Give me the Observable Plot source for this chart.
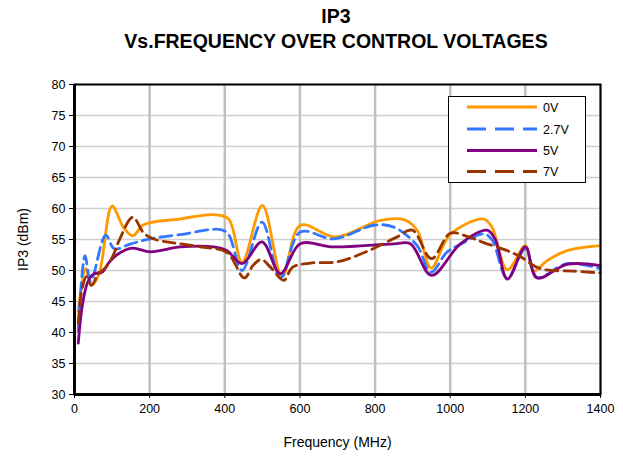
<!DOCTYPE html>
<html>
<head>
<meta charset="utf-8">
<script src="https://cdn.jsdelivr.net/npm/d3@7"></script>
<script src="https://cdn.jsdelivr.net/npm/@observablehq/plot@0.6"></script>
<style>
  html, body { margin: 0; padding: 0; background: #fff; }
  #wrap { position: relative; width: 623px; height: 456px; font-family: "Liberation Sans", Arial, sans-serif; }
  .title { position: absolute; left: 0; width: 672px; text-align: center; font-weight: bold; font-size: 19.5px; color: #000; z-index: 5; }
  #legend { position: absolute; left: 0; top: 0; z-index: 4; }
</style>
</head>
<body>
<div id="wrap">
  <div class="title" style="top:5px">IP3</div>
  <div class="title" style="top:30px">Vs.FREQUENCY OVER CONTROL VOLTAGES</div>
</div>
<script>
// ---- data ----
const seriesNames = ["0V", "2.7V", "5V", "7V"];
const seriesColors = ["#FF9900", "#3377FF", "#800080", "#993300"];
const seriesDash = [null, "12,6", null, "12,6"];

const freq0V = [10, 30, 45, 65, 100, 130, 155, 185, 280, 370, 410, 446, 500, 553, 601, 695, 814, 877, 912, 949, 1000, 1089, 1111, 1152, 1200, 1222, 1258, 1311, 1400];
const ip3_0V = [43.5, 50.3, 47.6, 49.4, 60.4, 57.0, 55.6, 57.4, 58.3, 59.0, 58.3, 51.3, 60.5, 49.0, 57.3, 55.4, 58.1, 58.2, 56.5, 50.4, 55.8, 58.3, 57.0, 50.1, 54.0, 49.9, 51.6, 53.2, 54.0];

const freq2_7V = [10, 28, 43, 83, 106, 150, 202, 282, 389, 410, 446, 499, 548, 601, 690, 797, 850, 912, 948, 992, 1027, 1089, 1111, 1152, 1200, 1231, 1311, 1400];
const ip3_2_7V = [40.3, 52.4, 48.2, 55.7, 53.5, 54.3, 55.1, 55.8, 56.6, 55.8, 50.0, 57.8, 48.8, 56.2, 55.1, 57.3, 57.0, 54.0, 49.7, 53.0, 54.2, 55.9, 55.0, 48.7, 53.5, 48.9, 51.1, 50.3];

const freq5V = [10, 21, 35, 50, 75, 92, 117, 154, 202, 282, 371, 406, 446, 499, 548, 601, 690, 850, 894, 950, 1027, 1098, 1120, 1152, 1200, 1231, 1311, 1400];
const ip3_5V = [38.3, 44.4, 48.1, 49.4, 49.8, 51.3, 52.7, 53.6, 53.0, 53.8, 53.8, 53.2, 51.1, 54.6, 49.5, 54.3, 53.8, 54.3, 54.3, 49.2, 54.3, 56.5, 55.0, 48.6, 53.8, 48.8, 51.0, 50.8];

const freq7V = [10, 20, 32, 45, 62, 83, 101, 120, 155, 185, 215, 260, 335, 406, 452, 475, 497, 522, 557, 580, 628, 700, 783, 855, 899, 950, 1000, 1045, 1089, 1152, 1187, 1240, 1329, 1400];
const ip3_7V = [41.5, 47.0, 49.0, 47.6, 49.3, 50.5, 52.2, 55.0, 58.6, 56.0, 55.0, 54.5, 53.8, 52.9, 48.8, 50.8, 51.8, 50.5, 48.4, 50.5, 51.2, 51.4, 53.2, 55.3, 56.5, 51.9, 56.0, 55.5, 54.5, 53.2, 52.2, 50.3, 49.9, 49.6];

const xTicks = [0, 200, 400, 600, 800, 1000, 1200, 1400];
const yTicks = [30, 35, 40, 45, 50, 55, 60, 65, 70, 75, 80];

// ---- build table ----
const freqs = [freq0V, freq2_7V, freq5V, freq7V];
const vals = [ip3_0V, ip3_2_7V, ip3_5V, ip3_7V];
const rows = [];
seriesNames.forEach((s, i) => freqs[i].forEach((f, j) => rows.push({series: s, freq: f, ip3: vals[i][j]})));

const lineMarks = seriesNames.map((s, i) => Plot.line(rows.filter(d => d.series === s), {
  x: "freq", y: "ip3", stroke: seriesColors[i], strokeWidth: 2.8,
  strokeDasharray: seriesDash[i] || undefined, curve: "catmull-rom"
}));

const fmt = d => String(d);
const chart = Plot.plot({
  width: 623,
  height: 456,
  marginTop: 84,
  marginBottom: 62,
  marginLeft: 74,
  marginRight: 23,
  style: {fontFamily: "Liberation Sans, Arial, sans-serif", fontSize: "12.5px", color: "#000", background: "transparent"},
  x: {domain: [0, 1400]},
  y: {domain: [30, 80]},
  marks: [
    Plot.gridY(yTicks, {stroke: "#cfcfcf", strokeOpacity: 1, strokeWidth: 1.5}),
    Plot.gridX(xTicks, {stroke: "#c0c0c0", strokeOpacity: 1, strokeWidth: 2.5}),
    ...lineMarks,
    Plot.frame({stroke: "#000", strokeWidth: 2}),
    Plot.axisX({ticks: xTicks, tickFormat: fmt, tickSize: 4, tickPadding: 6, fontSize: 12.5, label: "Frequency (MHz)", labelAnchor: "center", labelArrow: "none", labelOffset: 52}),
    Plot.axisY({ticks: yTicks, tickFormat: fmt, tickSize: 5, tickPadding: 4, fontSize: 12.5, label: "IP3 (dBm)", labelAnchor: "center", labelArrow: "none", labelOffset: 56}),
    Plot.ruleY([30], {stroke: "#000", strokeWidth: 3}),
    Plot.ruleX([0], {stroke: "#000", strokeWidth: 3})
  ]
});
const wrap = document.getElementById("wrap");
wrap.insertBefore(chart, wrap.firstChild);
chart.style.position = "absolute";
chart.style.left = "0";
chart.style.top = "0";
chart.style.zIndex = "1";
chart.querySelectorAll("[aria-label='x-axis label'] text, [aria-label='y-axis label'] text").forEach(t => t.style.fontSize = "14px");

// ---- legend overlay ----
const ns = "http://www.w3.org/2000/svg";
const lg = document.createElementNS(ns, "svg");
lg.setAttribute("id", "legend");
lg.setAttribute("width", 623);
lg.setAttribute("height", 456);
const box = document.createElementNS(ns, "rect");
box.setAttribute("x", 448.5); box.setAttribute("y", 96.5);
box.setAttribute("width", 137); box.setAttribute("height", 86);
box.setAttribute("fill", "#fff"); box.setAttribute("stroke", "#000"); box.setAttribute("stroke-width", 1);
lg.appendChild(box);
const rowY = [107, 129, 150.5, 171.5];
seriesNames.forEach((s, i) => {
  const ln = document.createElementNS(ns, "line");
  ln.setAttribute("x1", 467); ln.setAttribute("x2", 537);
  ln.setAttribute("y1", rowY[i]); ln.setAttribute("y2", rowY[i]);
  ln.setAttribute("stroke", seriesColors[i]); ln.setAttribute("stroke-width", 2.8);
  if (seriesDash[i]) ln.setAttribute("stroke-dasharray", "19,9");
  lg.appendChild(ln);
  const tx = document.createElementNS(ns, "text");
  tx.setAttribute("x", 543); tx.setAttribute("y", rowY[i] + 4.5);
  tx.setAttribute("font-size", 12.5); tx.setAttribute("font-family", "Liberation Sans, Arial, sans-serif");
  tx.textContent = s;
  lg.appendChild(tx);
});
wrap.appendChild(lg);
</script>
</body>
</html>
